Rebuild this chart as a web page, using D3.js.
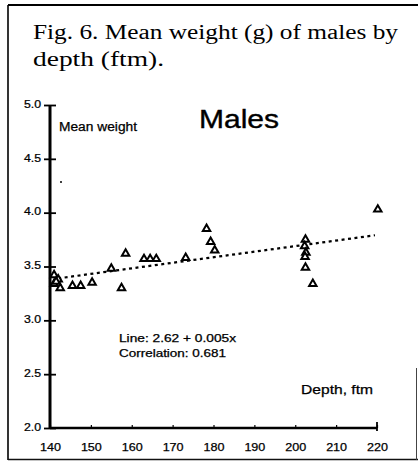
<!DOCTYPE html>
<html>
<head>
<meta charset="utf-8">
<script src="https://cdn.jsdelivr.net/npm/d3@7"></script>
<style>
  body { margin: 0; background: #fff; }
  svg { display: block; }
</style>
</head>
<body>
<div id="chart"></div>
<script>
// data
var depths  = [141, 142, 141, 142.5, 141.5, 145.5, 147.5, 150.3, 155, 157.5, 158.5, 163, 164.5, 166, 173.2, 178.3, 179.3, 180.3, 202.5, 202.3, 202.6, 202.4, 202.5, 204.3, 220.2];
var weights = [3.42, 3.38, 3.34, 3.30, 3.36, 3.32, 3.32, 3.35, 3.48, 3.30, 3.62, 3.57, 3.57, 3.57, 3.58, 3.85, 3.73, 3.65, 3.75, 3.69, 3.63, 3.59, 3.49, 3.34, 4.03];
var fitX = [142, 219.5];
var fitY = [3.39, 3.79];
var yTicks = [2.0, 2.5, 3.0, 3.5, 4.0, 4.5, 5.0];
var xTicks = [140, 150, 160, 170, 180, 190, 200, 210, 220];

var W = 418, H = 462;
var svg = d3.select("#chart").append("svg").attr("width", W).attr("height", H);

var x = d3.scaleLinear().domain([140, 220]).range([50, 377]);
var y = d3.scaleLinear().domain([2, 5]).range([428, 105]);

// frame
svg.append("line").attr("x1", 8).attr("x2", 8).attr("y1", 5).attr("y2", 460)
  .attr("stroke", "#000").attr("stroke-width", 1.6);
svg.append("line").attr("x1", 8).attr("x2", 418).attr("y1", 5).attr("y2", 5)
  .attr("stroke", "#000").attr("stroke-width", 2.2);
svg.append("line").attr("x1", 8).attr("x2", 418).attr("y1", 459.5).attr("y2", 459.5)
  .attr("stroke", "#111").attr("stroke-width", 1.6);
svg.append("line").attr("x1", 416.5).attr("x2", 416.5).attr("y1", 368).attr("y2", 460)
  .attr("stroke", "#444").attr("stroke-width", 1);

// caption
var cap = svg.append("g").attr("font-family", "'Liberation Serif', 'DejaVu Serif', serif")
  .attr("font-size", 20).attr("fill", "#000");
cap.append("text").attr("x", 33).attr("y", 39).attr("textLength", 365).attr("lengthAdjust", "spacingAndGlyphs")
  .text("Fig. 6. Mean weight (g) of males by");
cap.append("text").attr("x", 33).attr("y", 66).attr("textLength", 131).attr("lengthAdjust", "spacingAndGlyphs")
  .text("depth (ftm).");

var sans = "'Liberation Sans', Arial, sans-serif";
function ink(sel) {
  return sel.attr("font-family", sans).attr("fill", "#000")
    .attr("stroke", "#000").attr("stroke-width", 0.25);
}

// y axis
var yAxis = d3.axisLeft(y).tickValues(yTicks).tickFormat(d3.format(".1f")).tickSize(0);
var gy = svg.append("g").attr("transform", "translate(50,0)").call(yAxis);
gy.select(".domain").remove();
ink(gy.selectAll("text")).attr("dy", "0.2em").attr("font-size", 11)
  .attr("transform", "scale(1.12,1)").attr("text-anchor", "end")
  .attr("x", -9 / 1.12);
gy.selectAll(".tick").append("line").attr("x1", -6).attr("x2", 6)
  .attr("stroke", "#000").attr("stroke-width", 1.8);
svg.append("line").attr("x1", 50).attr("x2", 50).attr("y1", y(5)).attr("y2", y(2) + 1)
  .attr("stroke", "#000").attr("stroke-width", 3);

// x axis
var xAxis = d3.axisBottom(x).tickValues(xTicks).tickFormat(d3.format("d")).tickSize(0);
var gx = svg.append("g").attr("transform", "translate(0," + y(2) + ")").call(xAxis);
gx.select(".domain").remove();
ink(gx.selectAll("text")).attr("y", 15).attr("font-size", 11)
  .attr("textLength", 21).attr("lengthAdjust", "spacingAndGlyphs");
gx.selectAll(".tick").append("line").attr("y1", -3).attr("y2", 0)
  .attr("stroke", "#000").attr("stroke-width", 1.2);
svg.append("line").attr("x1", 50).attr("x2", x(220)).attr("y1", y(2)).attr("y2", y(2))
  .attr("stroke", "#000").attr("stroke-width", 2.6);
svg.append("line").attr("x1", x(220)).attr("x2", x(220)).attr("y1", y(2) - 6).attr("y2", y(2) + 3)
  .attr("stroke", "#000").attr("stroke-width", 1.8);

// labels
ink(svg.append("text")).attr("x", 59).attr("y", 131).attr("font-size", 12.5)
  .attr("textLength", 78).attr("lengthAdjust", "spacingAndGlyphs").text("Mean weight");
ink(svg.append("text")).attr("x", 199).attr("y", 128).attr("font-size", 26).attr("stroke-width", 0.4)
  .attr("textLength", 80).attr("lengthAdjust", "spacingAndGlyphs").text("Males");
ink(svg.append("text")).attr("x", 301).attr("y", 394).attr("font-size", 13)
  .attr("textLength", 72).attr("lengthAdjust", "spacingAndGlyphs").text("Depth, ftm");
ink(svg.append("text")).attr("x", 119).attr("y", 342).attr("font-size", 10)
  .attr("textLength", 117).attr("lengthAdjust", "spacingAndGlyphs").text("Line: 2.62 + 0.005x");
ink(svg.append("text")).attr("x", 119).attr("y", 357).attr("font-size", 10)
  .attr("textLength", 107).attr("lengthAdjust", "spacingAndGlyphs").text("Correlation: 0.681");

// fitted line
var fit = d3.line().x(function(d) { return x(d[0]); }).y(function(d) { return y(d[1]); });
svg.append("path").datum(d3.zip(fitX, fitY)).attr("d", fit)
  .attr("fill", "none").attr("stroke", "#000").attr("stroke-width", 2.2)
  .attr("stroke-dasharray", "3,3.5");

// points
var tri = d3.symbol().type(d3.symbolTriangle).size(24);
svg.append("g").selectAll("path").data(d3.zip(depths, weights)).join("path")
  .attr("transform", function(d) { return "translate(" + x(d[0]) + "," + y(d[1]) + ")"; })
  .attr("d", tri).attr("fill", "#fff").attr("stroke", "#000").attr("stroke-width", 2);

// stray speck on the scan
svg.append("circle").attr("cx", 61).attr("cy", 182).attr("r", 1).attr("fill", "#000");
</script>
</body>
</html>
